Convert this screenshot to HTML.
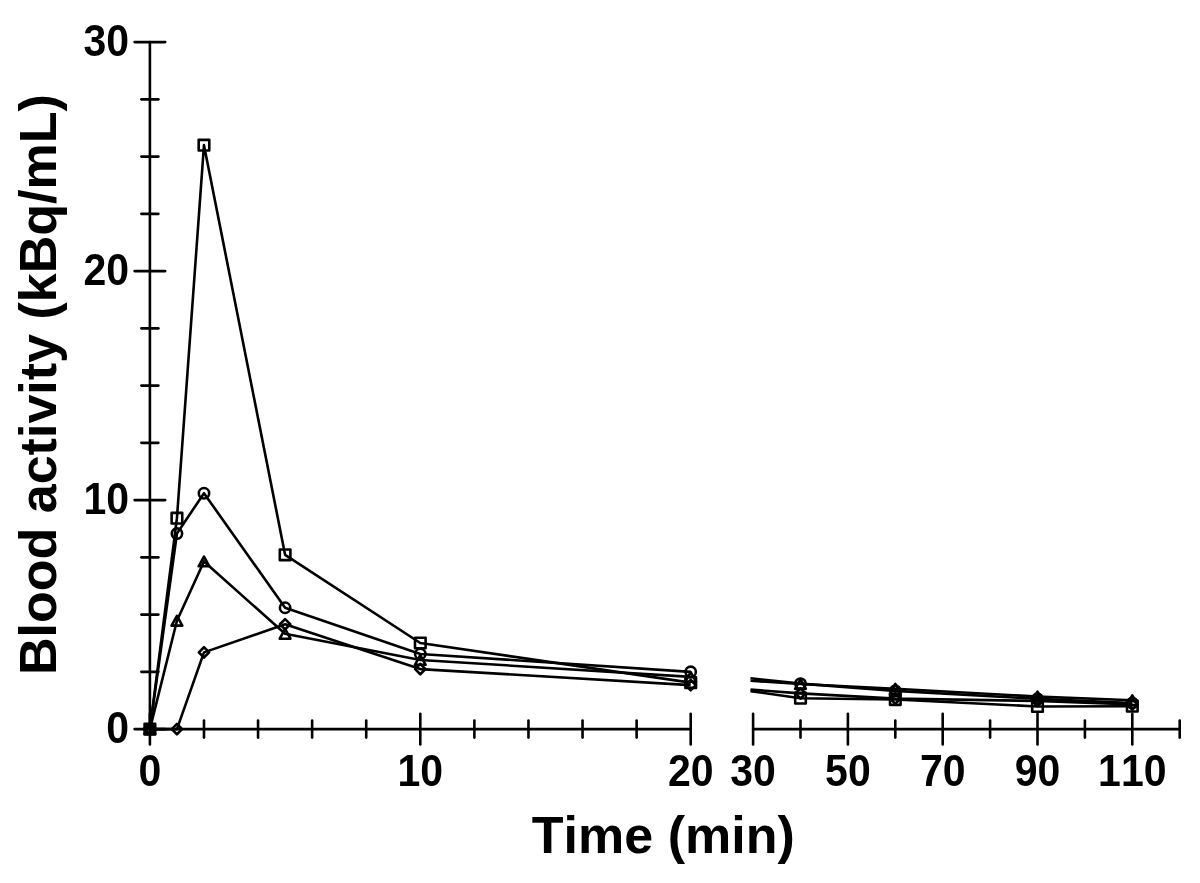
<!DOCTYPE html>
<html lang="en"><head><meta charset="utf-8"><title>Blood activity vs time</title>
<style>html,body{margin:0;padding:0;background:#fff;}svg{display:block;}text{font-family:"Liberation Sans",Arial,Helvetica,sans-serif;font-weight:bold;fill:#000;font-kerning:none;}.tk{font-size:41px;}.tt{font-size:52px;}</style></head><body>
<svg width="1200" height="883" viewBox="0 0 1200 883">
<rect width="1200" height="883" fill="#fff"/>
<g stroke="#000" stroke-width="2.6" fill="none" stroke-linecap="round">
<line x1="149.9" y1="42.10" x2="149.9" y2="729.1"/>
<line x1="149.9" y1="729.1" x2="690.70" y2="729.1"/>
<line x1="753.1" y1="729.1" x2="1179.70" y2="729.1"/>
<line x1="134.60" y1="729.10" x2="165.20" y2="729.10"/>
<line x1="141.40" y1="671.85" x2="158.40" y2="671.85"/>
<line x1="141.40" y1="614.60" x2="158.40" y2="614.60"/>
<line x1="141.40" y1="557.35" x2="158.40" y2="557.35"/>
<line x1="134.60" y1="500.10" x2="165.20" y2="500.10"/>
<line x1="141.40" y1="442.85" x2="158.40" y2="442.85"/>
<line x1="141.40" y1="385.60" x2="158.40" y2="385.60"/>
<line x1="141.40" y1="328.35" x2="158.40" y2="328.35"/>
<line x1="134.60" y1="271.10" x2="165.20" y2="271.10"/>
<line x1="141.40" y1="213.85" x2="158.40" y2="213.85"/>
<line x1="141.40" y1="156.60" x2="158.40" y2="156.60"/>
<line x1="141.40" y1="99.35" x2="158.40" y2="99.35"/>
<line x1="134.60" y1="42.10" x2="165.20" y2="42.10"/>
<line x1="149.90" y1="713.80" x2="149.90" y2="744.40"/>
<line x1="203.98" y1="720.60" x2="203.98" y2="737.60"/>
<line x1="258.06" y1="720.60" x2="258.06" y2="737.60"/>
<line x1="312.14" y1="720.60" x2="312.14" y2="737.60"/>
<line x1="366.22" y1="720.60" x2="366.22" y2="737.60"/>
<line x1="420.30" y1="713.80" x2="420.30" y2="744.40"/>
<line x1="474.38" y1="720.60" x2="474.38" y2="737.60"/>
<line x1="528.46" y1="720.60" x2="528.46" y2="737.60"/>
<line x1="582.54" y1="720.60" x2="582.54" y2="737.60"/>
<line x1="636.62" y1="720.60" x2="636.62" y2="737.60"/>
<line x1="690.70" y1="713.80" x2="690.70" y2="744.40"/>
<line x1="753.10" y1="713.80" x2="753.10" y2="744.40"/>
<line x1="800.50" y1="720.60" x2="800.50" y2="737.60"/>
<line x1="847.90" y1="713.80" x2="847.90" y2="744.40"/>
<line x1="895.30" y1="720.60" x2="895.30" y2="737.60"/>
<line x1="942.70" y1="713.80" x2="942.70" y2="744.40"/>
<line x1="990.10" y1="720.60" x2="990.10" y2="737.60"/>
<line x1="1037.50" y1="713.80" x2="1037.50" y2="744.40"/>
<line x1="1084.90" y1="720.60" x2="1084.90" y2="737.60"/>
<line x1="1132.30" y1="713.80" x2="1132.30" y2="744.40"/>
<line x1="1179.70" y1="720.60" x2="1179.70" y2="737.60"/>
</g>
<g stroke="#000" stroke-width="2.6" fill="none" stroke-linejoin="round" stroke-linecap="butt">
<polyline points="149.90,729.10 176.94,518.19 203.98,145.15 285.10,554.83 420.30,643.00 690.70,682.61"/>
<polyline points="750.50,691.09 800.50,698.19 895.30,699.56 1037.50,706.43 1132.30,706.20"/>
<polyline points="149.90,729.10 176.94,533.53 203.98,493.23 285.10,607.73 420.30,653.99 690.70,671.85"/>
<polyline points="750.50,678.27 800.50,683.64 895.30,690.86 1037.50,698.87 1132.30,702.99"/>
<polyline points="149.90,729.10 176.94,620.78 203.98,561.47 285.10,633.84 420.30,659.94 690.70,676.89"/>
<polyline points="750.50,680.75 800.50,683.99 895.30,688.80 1037.50,696.58 1132.30,700.25"/>
<polyline points="149.90,729.10 176.94,729.10 203.98,652.38 285.10,624.22 420.30,669.10 690.70,685.13"/>
<polyline points="750.50,689.62 800.50,693.38 895.30,698.64 1037.50,700.93 1132.30,704.37"/>
</g>
<g stroke="#000" stroke-width="2.6" fill="none" stroke-linejoin="round">
<rect x="144.60" y="723.80" width="10.6" height="10.6"/>
<rect x="171.64" y="512.89" width="10.6" height="10.6"/>
<rect x="198.68" y="139.85" width="10.6" height="10.6"/>
<rect x="279.80" y="549.53" width="10.6" height="10.6"/>
<rect x="415.00" y="637.70" width="10.6" height="10.6"/>
<rect x="685.40" y="677.31" width="10.6" height="10.6"/>
<rect x="795.20" y="692.89" width="10.6" height="10.6"/>
<rect x="890.00" y="694.26" width="10.6" height="10.6"/>
<rect x="1032.20" y="701.13" width="10.6" height="10.6"/>
<rect x="1127.00" y="700.90" width="10.6" height="10.6"/>
<circle cx="149.90" cy="729.10" r="5.2"/>
<circle cx="176.94" cy="533.53" r="5.2"/>
<circle cx="203.98" cy="493.23" r="5.2"/>
<circle cx="285.10" cy="607.73" r="5.2"/>
<circle cx="420.30" cy="653.99" r="5.2"/>
<circle cx="690.70" cy="671.85" r="5.2"/>
<circle cx="800.50" cy="683.64" r="5.2"/>
<circle cx="895.30" cy="690.86" r="5.2"/>
<circle cx="1037.50" cy="698.87" r="5.2"/>
<circle cx="1132.30" cy="702.99" r="5.2"/>
<path d="M149.90,724.25 L155.25,733.95 L144.55,733.95 Z"/>
<path d="M176.94,615.93 L182.29,625.63 L171.59,625.63 Z"/>
<path d="M203.98,556.62 L209.33,566.32 L198.63,566.32 Z"/>
<path d="M285.10,628.99 L290.45,638.69 L279.75,638.69 Z"/>
<path d="M420.30,655.09 L425.65,664.79 L414.95,664.79 Z"/>
<path d="M690.70,672.04 L696.05,681.74 L685.35,681.74 Z"/>
<path d="M800.50,679.14 L805.85,688.84 L795.15,688.84 Z"/>
<path d="M895.30,683.95 L900.65,693.65 L889.95,693.65 Z"/>
<path d="M1037.50,691.73 L1042.85,701.43 L1032.15,701.43 Z"/>
<path d="M1132.30,695.40 L1137.65,705.10 L1126.95,705.10 Z"/>
<path d="M149.90,723.95 L155.05,729.10 L149.90,734.25 L144.75,729.10 Z"/>
<path d="M176.94,723.95 L182.09,729.10 L176.94,734.25 L171.79,729.10 Z"/>
<path d="M203.98,647.24 L209.13,652.38 L203.98,657.53 L198.83,652.38 Z"/>
<path d="M285.10,619.07 L290.25,624.22 L285.10,629.37 L279.95,624.22 Z"/>
<path d="M420.30,663.95 L425.45,669.10 L420.30,674.25 L415.15,669.10 Z"/>
<path d="M690.70,679.98 L695.85,685.13 L690.70,690.28 L685.55,685.13 Z"/>
<path d="M800.50,688.23 L805.65,693.38 L800.50,698.53 L795.35,693.38 Z"/>
<path d="M895.30,693.49 L900.45,698.64 L895.30,703.79 L890.15,698.64 Z"/>
<path d="M1037.50,695.78 L1042.65,700.93 L1037.50,706.08 L1032.35,700.93 Z"/>
<path d="M1132.30,699.22 L1137.45,704.37 L1132.30,709.52 L1127.15,704.37 Z"/>
</g>
<text class="tk" transform="translate(129.0,743.10) scale(1,1.065)" text-anchor="end">0</text>
<text class="tk" transform="translate(129.0,514.10) scale(1,1.065)" text-anchor="end">10</text>
<text class="tk" transform="translate(129.0,285.10) scale(1,1.065)" text-anchor="end">20</text>
<text class="tk" transform="translate(129.0,56.10) scale(1,1.065)" text-anchor="end">30</text>
<text class="tk" transform="translate(149.90,785.7) scale(1,1.065)" text-anchor="middle">0</text>
<text class="tk" transform="translate(420.30,785.7) scale(1,1.065)" text-anchor="middle">10</text>
<text class="tk" transform="translate(690.70,785.7) scale(1,1.065)" text-anchor="middle">20</text>
<text class="tk" transform="translate(753.10,785.7) scale(1,1.065)" text-anchor="middle">30</text>
<text class="tk" transform="translate(847.90,785.7) scale(1,1.065)" text-anchor="middle">50</text>
<text class="tk" transform="translate(942.70,785.7) scale(1,1.065)" text-anchor="middle">70</text>
<text class="tk" transform="translate(1037.50,785.7) scale(1,1.065)" text-anchor="middle">90</text>
<text class="tk" transform="translate(1132.30,785.7) scale(1,1.065)" text-anchor="middle">110</text>
<text class="tt" x="663.3" y="852.5" text-anchor="middle">Time (min)</text>
<text class="tt" transform="translate(56.2,384.6) rotate(-90)" text-anchor="middle">Blood activity (kBq/mL)</text>
</svg></body></html>
